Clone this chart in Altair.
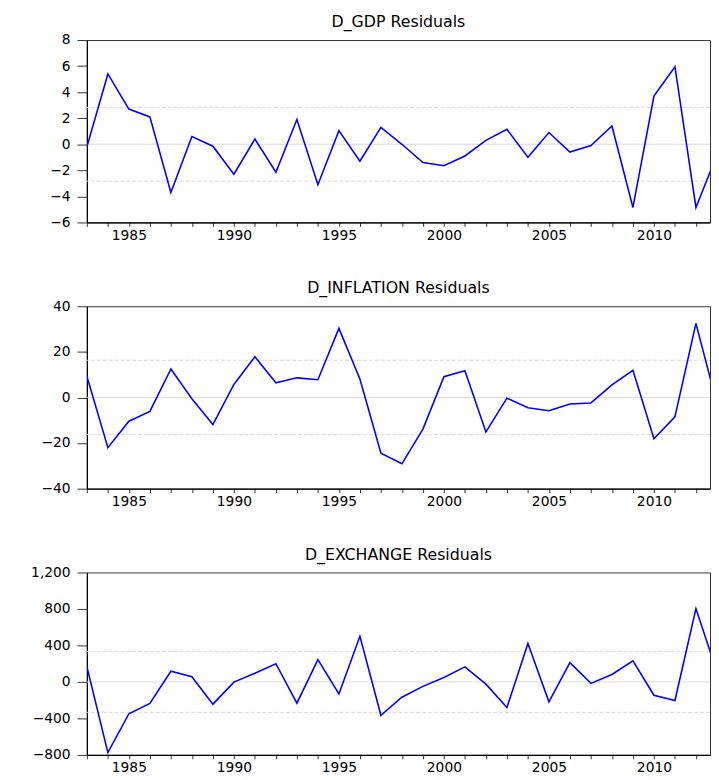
import altair as alt
import pandas as pd

years = list(range(1983, 2014))
gdp = [-0.2, 5.4, 2.7, 2.1, -3.7, 0.6, -0.15, -2.3, 0.4, -2.15, 1.9, -3.1, 1.05,
       -1.3, 1.3, 0.0, -1.4, -1.65, -0.9, 0.3, 1.15, -1.0, 0.9, -0.6, -0.1, 1.4,
       -4.85, 3.7, 5.95, -4.85, -0.8]
inflation = [9.3, -22.0, -10.4, -6.1, 12.5, -0.6, -11.9, 5.7, 17.8, 6.4, 8.6, 7.8,
             30.3, 8.1, -24.5, -29.1, -13.9, 9.1, 11.7, -15.1, -0.3, -4.5, -5.8,
             -2.9, -2.4, 5.5, 11.9, -18.1, -8.5, 32.5, -2.9]
exchange = [168, -775, -349, -236, 117, 56, -244, -2, 95, 200, -233, 244, -132,
            500, -366, -168, -49, 49, 165, -24, -280, 421, -219, 211, -16, 81,
            230, -146, -204, 804, 110]

titles = ["D_GDP Residuals", "D_INFLATION Residuals", "D_EXCHANGE Residuals"]
std_bands = [2.83, 16.3, 334]
y_domains = [[-6, 8], [-40, 40], [-800, 1200]]
y_ticks = [[-6, -4, -2, 0, 2, 4, 6, 8], [-40, -20, 0, 20, 40],
           [-800, -400, 0, 400, 800, 1200]]
x_domain = [1983, 2012.67]
tick_years = list(range(1983, 2013))

FONT = "DejaVu Sans"
W, H = 632, 185


def panel(values, title, sd, ydom, yticks):
    df = pd.DataFrame({"year": years, "value": values})
    zero_df = pd.DataFrame({"value": [0]})
    band_df = pd.DataFrame({"value": [sd, -sd]})
    x = alt.X("year:Q", scale=alt.Scale(domain=x_domain, nice=False, zero=False),
              axis=alt.Axis(values=tick_years, format="d",
                            labelExpr="datum.value % 5 === 0 ? datum.label : ''",
                            title=None, grid=False, tickSize=4, labelPadding=2,
                            labelFlush=False, labelOverlap=False,
                            minExtent=20, maxExtent=20))
    yscale = alt.Scale(domain=ydom, nice=False, zero=False)
    yaxis = alt.Axis(values=yticks, format=",d", title=None, grid=False,
                     tickSize=10, labelPadding=7, labelOverlap=False,
                     labelFlush=False, minExtent=74, maxExtent=74)
    y = alt.Y("value:Q", scale=yscale, axis=yaxis)
    zero = alt.Chart(zero_df).mark_rule(color="#dcdcdc", strokeWidth=1).encode(y=y)
    band = alt.Chart(band_df).mark_rule(color="#d8d8d8", strokeWidth=1,
                                        strokeDash=[4, 2]).encode(y=y)
    line = alt.Chart(df).mark_line(color="#0000ff", strokeWidth=1.6,
                                   clip=True).encode(x=x, y=y)
    return alt.layer(zero, band, line).properties(
        width=W, height=H,
        title=alt.TitleParams(title, fontSize=16, font=FONT, fontWeight="normal",
                              color="#000", offset=3, anchor="middle"))


charts = [panel(v, t, s, d, k) for v, t, s, d, k in
          zip([gdp, inflation, exchange], titles, std_bands, y_domains, y_ticks)]

chart = alt.vconcat(*charts, spacing=37).properties(
    padding={"left": 5, "top": 0, "right": 0, "bottom": 0}
).configure_view(stroke="#333", strokeWidth=1).configure_axis(
    labelFont=FONT, labelFontSize=14, labelColor="#000",
    domainColor="#000", tickColor="#333", domainWidth=1.2
)

chart.save("out.html", embed_options={"renderer": "svg", "actions": False})
